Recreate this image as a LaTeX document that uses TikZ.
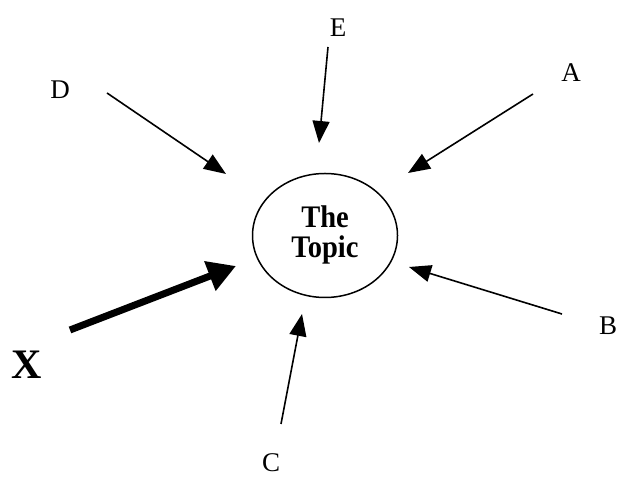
\documentclass[tikz,border=0pt]{standalone}
\usepackage{fontspec}
\setmainfont{Liberation Serif}
\usetikzlibrary{arrows.meta,shapes.geometric}
\begin{document}
\begin{tikzpicture}[x=1pt,y=1pt,
  lbl/.style={font=\fontsize{27}{30}\selectfont, inner sep=0pt},
  arr/.style={line width=1.6pt, -{Triangle[length=22pt,width=17pt]}},
  bigarr/.style={line width=7pt, -{Triangle[length=28pt,width=30pt]}}]
\useasboundingbox (0,0) rectangle (617,478);
\node[draw, line width=1.5pt, ellipse, minimum width=145pt, minimum height=124pt, inner sep=0pt]
  (topic) at (325,242.5)
  {\scalebox{1}[1.1]{\bfseries\fontsize{28.5}{24}\selectfont\begin{tabular}{@{}c@{}}The\\Topic\end{tabular}}};
\node[lbl] (E) at (338,450) {E};
\node[lbl] (D) at (60,388) {D};
\node[lbl] (A) at (571,405) {A};
\node[lbl] (B) at (608,152) {B};
\node[lbl] (C) at (271,15) {C};
\node[font=\bfseries\fontsize{42}{46}\selectfont, inner sep=0pt] (X) at (27,113) {X};
\coordinate (e1) at (328,431); \coordinate (e2) at (319,335);
\coordinate (d1) at (107,385); \coordinate (d2) at (226,304);
\coordinate (a1) at (533,384); \coordinate (a2) at (408,305);
\coordinate (b1) at (562,164); \coordinate (b2) at (409,211);
\coordinate (c1) at (281,54);  \coordinate (c2) at (302,164);
\coordinate (x1) at (70,148);  \coordinate (x2) at (236,212);
\draw[arr] (e1) -- (e2);
\draw[arr] (d1) -- (d2);
\draw[arr] (a1) -- (a2);
\draw[arr] (b1) -- (b2);
\draw[arr] (c1) -- (c2);
\draw[bigarr] (x1) -- (x2);
\end{tikzpicture}
\end{document}
